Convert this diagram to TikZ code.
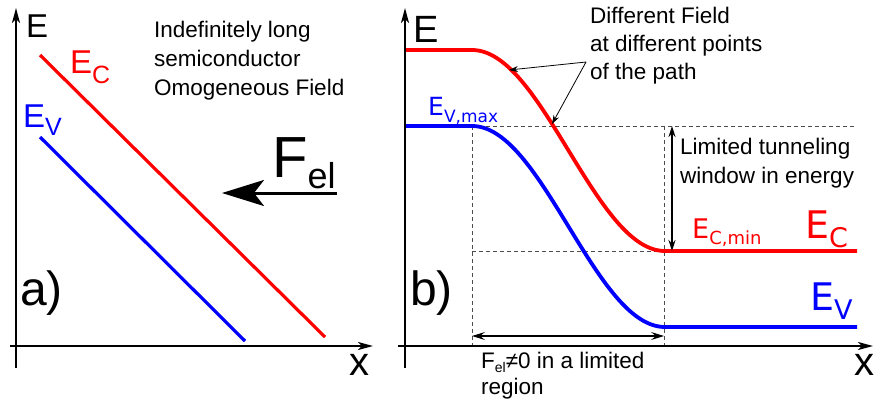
\documentclass[tikz,border=0pt]{standalone}
\usepackage{fontspec}
\setmainfont{Liberation Sans}
\newfontfamily\dvs{DejaVu Sans}
\usetikzlibrary{arrows.meta}
\newcommand{\fsz}[1]{\fontsize{#1}{#1}\selectfont}
\begin{document}
\begin{tikzpicture}[x=1pt,y=-1pt,
  axis/.style={line width=2pt,-{Stealth[length=15pt,width=8pt,inset=4pt]}},
  bandA/.style={line width=3.2pt},
  bandB/.style={line width=3.8pt},
  guide/.style={dash pattern=on 4pt off 3pt,line width=0.9pt,black!70},
  lbl/.style={inner sep=0pt,anchor=base west},
  txt/.style={lbl,font=\fsz{22.5}},
  note/.style={line width=0.8pt,-{Stealth[length=9pt,width=6pt]}},
  span/.style={line width=1.3pt,{Stealth[length=13pt,width=8pt,inset=5pt]}-{Stealth[length=13pt,width=8pt,inset=5pt]}},
  window/.style={line width=1.5pt,{Stealth[length=11pt,width=7pt]}-{Stealth[length=11pt,width=7pt]}}
]
\useasboundingbox (0,0) rectangle (877,408);

% ---------- panel a ----------
\draw[axis] (16,368) -- (16,8);
\draw[axis] (10,346) -- (373,346);
\draw[bandA,red] (40,55) -- (325,337);
\draw[bandA,blue] (40,137) -- (245,341);
\draw[line width=3pt,-{Stealth[length=42pt,width=26pt,inset=10pt]}] (337,193) -- (222,193);

\node[lbl,font=\fsz{33}] (Ea) at (26,37) {E};
\node[lbl,font=\fsz{33},text=red] (ECa) at (70,73) {E\raisebox{-10pt}{\fsz{25}C}};
\node[lbl,font=\fsz{33},text=blue] (EVa) at (23,127) {E\raisebox{-8pt}{\fsz{25}V}};
\node[lbl,font=\fsz{58}] (Fel) at (272,177) {F\raisebox{-11pt}{\fsz{36}el}};
\node[lbl,font=\fsz{48}] (pa) at (20,305) {a)};
\node[lbl,font=\fsz{40}] (xa) at (349,375) {x};
\node[txt] (t1) at (154,37) {Indefinitely long};
\node[txt] (t2) at (154,66) {semiconductor};
\node[txt] (t3) at (154,95) {Omogeneous Field};

% ---------- panel b ----------
\draw[guide] (472,126) -- (855,126);
\draw[guide] (472,251) -- (665,251);
\draw[guide] (472,126) -- (472,346);
\draw[guide] (664,126) -- (664,346);

\draw[bandB,red] (405,50) -- (472,50)
  -- plot[domain=0:1,samples=80] ({472+193*\x},{50+201*(1-cos(180*\x))/2})
  -- (857,251);
\draw[bandB,blue] (405,126) -- (472,126)
  -- plot[domain=0:1,samples=80] ({472+193*\x},{126+201*(1-cos(180*\x))/2})
  -- (857,327);

\draw[axis] (405,368) -- (405,8);
\draw[axis] (398,346) -- (873,346);

\coordinate (fork) at (586,62);
\coordinate (hitA) at (509,70);
\coordinate (hitB) at (552,124);
\draw[note] (fork) -- (hitA);
\draw[note] (fork) -- (hitB);

\coordinate (wtop) at (672,126);
\coordinate (wbot) at (672,251);
\draw[window] (wtop) -- (wbot);

\coordinate (sl) at (472,336);
\coordinate (sr) at (664,336);
\draw[span] (sl) -- (sr);

\node[lbl,font=\fsz{38}] (Eb) at (413,42) {E};
\node[lbl,font=\fsz{40}] (xb) at (854,375) {x};
\node[lbl,font=\fsz{48}] (pb) at (410,305) {b)};

\node[lbl,font={\dvs\fsz{25}},text=blue] (EVmax) at (428,115) {E\raisebox{-7pt}{\fsz{17}V,max}};
\node[lbl,font={\dvs\fsz{27}},text=red] (ECmin) at (692,238) {E\raisebox{-6pt}{\fsz{18}C,min}};
\node[lbl,font={\dvs\fsz{38}},text=red] (ECb) at (805,238) {E\raisebox{-9pt}{\fsz{27}C}};
\node[lbl,font={\dvs\fsz{38}},text=blue] (EVb) at (810,310) {E\raisebox{-9pt}{\fsz{27}V}};

\node[txt] (d1) at (590,23) {Different Field};
\node[txt] (d2) at (590,51) {at different points};
\node[txt] (d3) at (590,79) {of the path};
\node[txt] (w1) at (680,154) {Limited tunneling};
\node[txt] (w2) at (680,183) {window in energy};
\node[txt] (r1) at (481,368) {F\raisebox{-4pt}{\fsz{14}el}≠0 in a limited};
\node[txt] (r2) at (481,394) {region};
\end{tikzpicture}
\end{document}
